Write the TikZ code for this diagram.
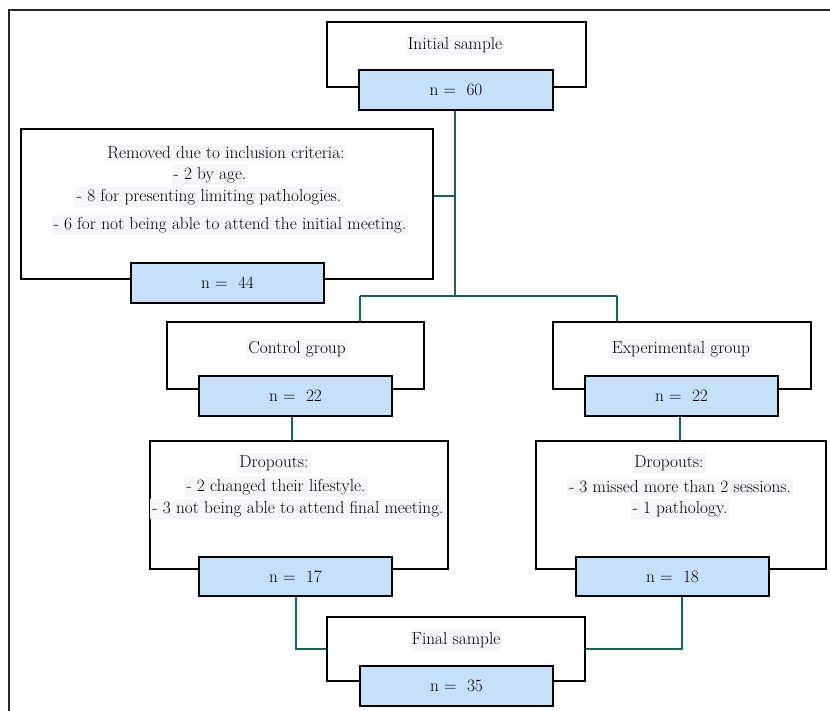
\documentclass[tikz,border=0pt]{standalone}
\definecolor{bluefill}{RGB}{198,223,250}
\definecolor{conn}{RGB}{30,95,95}
\definecolor{hl}{RGB}{244,246,250}
\definecolor{framec}{RGB}{40,40,40}
\begin{document}
\begin{tikzpicture}[x=1pt,y=-1pt,
  outerbox/.style={draw=black,line width=1.8pt,fill=white,minimum width=#1,inner sep=0pt},
  bluebox/.style={draw=black,line width=1.8pt,fill=bluefill,minimum width=#1,minimum height=40pt,inner sep=0pt,font=\fontsize{17.3}{19}\selectfont},
  txt/.style={fill=hl,inner sep=2pt,font=\fontsize{17.3}{19}\selectfont},
  link/.style={draw=conn,line width=1.5pt}]
\useasboundingbox (0,0) rectangle (830,710);
\fill[white] (0,0) rectangle (830,710);
\draw[framec,line width=2.2pt] (9,712) -- (9,10) -- (832,10);

% outer boxes
\node[outerbox=259pt,minimum height=65pt] (init) at (456.5,54.5) {};
\node[outerbox=412pt,minimum height=150pt] (rem) at (227,204) {};
\node[outerbox=257pt,minimum height=67pt] (ctrl) at (295.5,355.5) {};
\node[outerbox=258pt,minimum height=67pt] (expg) at (682,355.5) {};
\node[outerbox=298pt,minimum height=128pt] (dropc) at (299,505) {};
\node[outerbox=290pt,minimum height=128pt] (drope) at (681,505) {};
\node[outerbox=258pt,minimum height=64pt] (final) at (456,649) {};

% texts
\node[txt] (tinit) at (455,45) {Initial sample};
\node[txt] (trem1) at (226,153) {Removed due to inclusion criteria:};
\node[txt] (trem2) at (210,175) {- 2 by age.};
\node[txt] (trem3) at (209,197) {- 8 for presenting limiting pathologies.};
\node[txt] (trem4) at (230,225) {- 6 for not being able to attend the initial meeting.};
\node[txt] (tctrl) at (297,349) {Control group};
\node[txt] (texp) at (681,349) {Experimental group};
\node[txt] (tdc1) at (274,463) {Dropouts:};
\node[txt] (tdc2) at (276,487) {- 2 changed their lifestyle.};
\node[txt] (tdc3) at (298,509) {- 3 not being able to attend final meeting.};
\node[txt] (tde1) at (669,463) {Dropouts:};
\node[txt] (tde2) at (680,487) {- 3 missed more than 2 sessions.};
\node[txt] (tde3) at (680,509) {- 1 pathology.};
\node[txt] (tfin) at (456,640) {Final sample};

% junction coordinates
\coordinate (j0) at (455,296);
\coordinate (jr) at (455,196);
\coordinate (jc) at (360,296);
\coordinate (je) at (617,296);
\coordinate (jc2) at (296,649);
\coordinate (je2) at (682,649);

% connectors
\draw[link] (455,110) -- (j0);
\draw[link] (rem.east |- jr) -- (jr);
\draw[link] (jc) -- (je);
\draw[link] (jc) -- (jc |- ctrl.north);
\draw[link] (je) -- (je |- expg.north);
\draw[link] (292,416) -- (292,441);
\draw[link] (680,416) -- (680,441);
\draw[link] (296,596) -- (jc2) -- (final.west);
\draw[link] (682,596) -- (je2) -- (final.east);

% blue boxes
\node[bluebox=194pt] (n60) at (456,90) {n =\ \ 60};
\node[bluebox=193pt] (n44) at (227.5,283) {n =\ \ 44};
\node[bluebox=193pt] (n22c) at (295.5,396) {n =\ \ 22};
\node[bluebox=193pt] (n22e) at (681.5,396) {n =\ \ 22};
\node[bluebox=193pt,minimum height=39pt] (n17) at (295.5,576.5) {n =\ \ 17};
\node[bluebox=193pt,minimum height=39pt] (n18) at (672.5,576.5) {n =\ \ 18};
\node[bluebox=193pt] (n35) at (456.5,686) {n =\ \ 35};
\end{tikzpicture}
\end{document}
